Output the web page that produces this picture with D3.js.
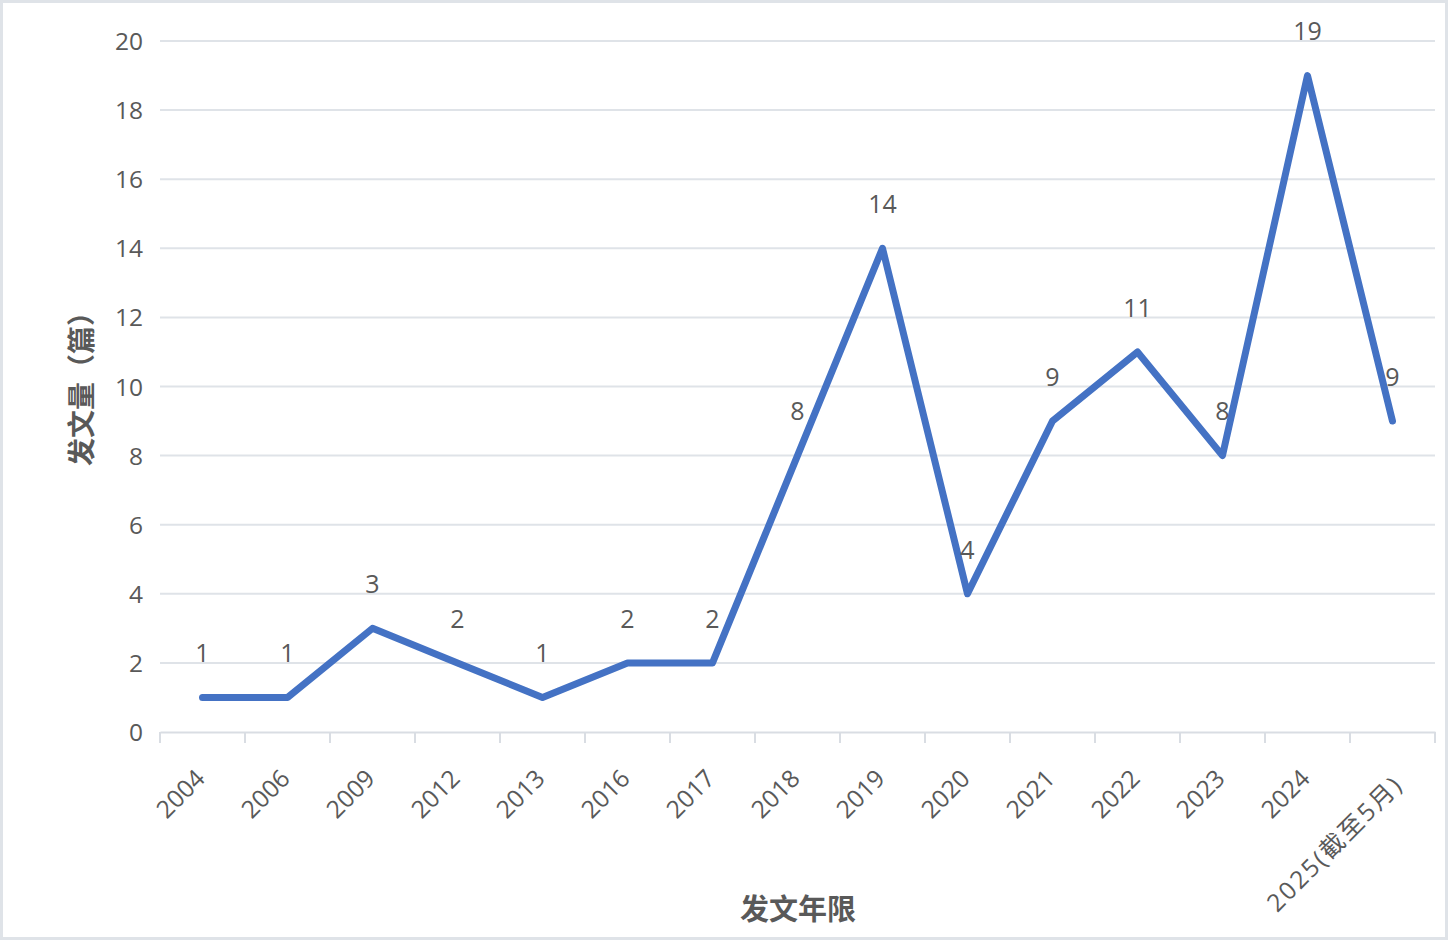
<!DOCTYPE html>
<html><head><meta charset="utf-8">
<script src="https://cdn.jsdelivr.net/npm/d3@7"></script>
<style>
html,body{margin:0;padding:0;background:#fff;}
svg{display:block;}
text{font-family:"Open Sans","Noto Sans CJK SC","Noto Sans",sans-serif;}
</style></head>
<body>
<script>
const categories = ["2004","2006","2009","2012","2013","2016","2017","2018","2019","2020","2021","2022","2023","2024","2025(截至5月)"];
const values = [1,1,3,2,1,2,2,8,14,4,9,11,8,19,9];
const yTicks = [0,2,4,6,8,10,12,14,16,18,20];
const yTitle = "发文量（篇）";
const xTitle = "发文年限";

(function(){
const W = 1448, H = 940;
const svg = d3.select("body").append("svg").attr("width", W).attr("height", H);
svg.append("rect").attr("x",1.5).attr("y",1.5).attr("width",W-3).attr("height",H-3)
  .attr("fill","#fff").attr("stroke","#dfe3e8").attr("stroke-width",3);

const mL = 160, mR = 1435, mT = 41, mB = 732;
const x = d3.scaleBand().domain(categories).range([mL, mR]).paddingInner(0).paddingOuter(0);
const y = d3.scaleLinear().domain([0,20]).range([mB, mT]);

const textColor = "#595959";
svg.append("g").selectAll("line").data(yTicks.filter(d=>d>0)).join("line")
  .attr("x1", mL).attr("x2", mR).attr("y1", d=>y(d)).attr("y2", d=>y(d))
  .attr("stroke","#dfe3e8").attr("stroke-width",2);

const yAxis = d3.axisLeft(y).tickValues(yTicks).tickSize(0).tickPadding(17);
const gy = svg.append("g").attr("transform",`translate(${mL},0)`).call(yAxis);
gy.select(".domain").remove();
gy.selectAll("text").attr("fill",textColor).style("font-size","24.5px").attr("dy","0.35em");

const xAxis = d3.axisBottom(x).tickSize(0).tickSizeOuter(0);
const gx = svg.append("g").attr("transform",`translate(0,${mB})`).call(xAxis);
gx.select(".domain").attr("stroke","#d9dde3").attr("stroke-width",2);
gx.selectAll(".tick line").remove();
gx.selectAll("text").attr("fill",textColor).style("font-size","24.5px")
  .attr("text-anchor","end").attr("dy",null).attr("y",0)
  .attr("transform","translate(4,48) rotate(-45)");
gx.selectAll("text").filter(d=>d.length>4).style("letter-spacing","2.2px")
  .attr("transform","translate(12,54) rotate(-45)");
const bounds = categories.map(c=>x(c)).concat([mR]);
svg.append("g").selectAll("line").data(bounds).join("line")
  .attr("x1",d=>d).attr("x2",d=>d).attr("y1",mB).attr("y2",mB+11)
  .attr("stroke","#d9dde3").attr("stroke-width",2);

const cx = c => x(c) + x.bandwidth()/2;
const line = d3.line().x((d,i)=>cx(categories[i])).y(d=>y(d));
svg.append("path").datum(values).attr("d",line).attr("fill","none")
  .attr("stroke","#4472c4").attr("stroke-width",7)
  .attr("stroke-linejoin","round").attr("stroke-linecap","round");

svg.append("g").selectAll("text").data(values).join("text")
  .attr("x",(d,i)=>cx(categories[i])).attr("y",d=>y(d)-44).attr("dy","0.35em")
  .attr("text-anchor","middle").attr("fill",textColor).style("font-size","25px")
  .text(d=>d);

svg.append("text").attr("transform","translate(82,382) rotate(-90)")
  .attr("text-anchor","middle").attr("dy","0.35em").attr("fill",textColor)
  .style("font-size","28px").style("font-weight","bold").text(yTitle);
svg.append("text").attr("x",798).attr("y",910).attr("dy","0.35em")
  .attr("text-anchor","middle").attr("fill",textColor)
  .style("font-size","29px").style("font-weight","bold").text(xTitle);
})();
</script>
</body></html>
